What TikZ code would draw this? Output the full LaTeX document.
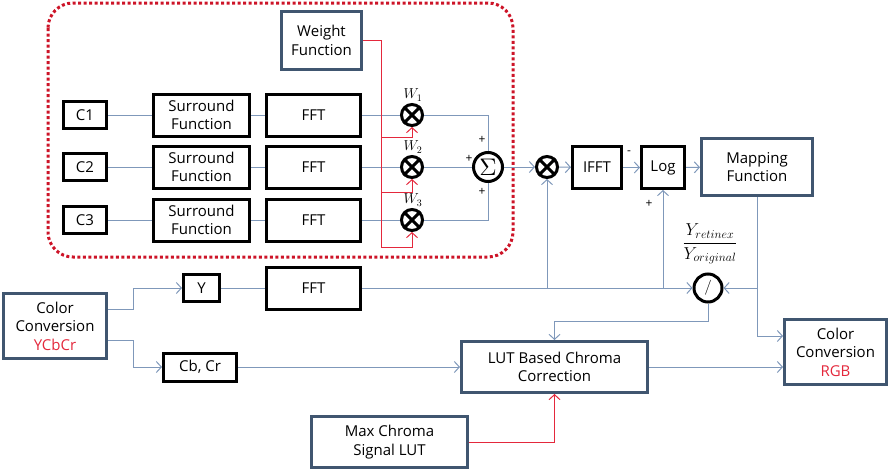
\documentclass[tikz,border=0pt]{standalone}
\usepackage{amsmath}
\usepackage{fontspec}
\setmainfont{Open Sans}
\usepackage{tikz}
\usetikzlibrary{positioning,calc,arrows,arrows.meta,backgrounds}

\definecolor{lnblue}{RGB}{127,152,186}
\definecolor{bxblue}{RGB}{64,86,112}
\definecolor{lnred}{RGB}{228,40,60}
\definecolor{dotred}{RGB}{205,20,40}

\begin{document}
\begin{tikzpicture}[x=1pt,y=-1pt]
\tikzstyle{bk}=[draw=black,line width=3pt,fill=white,align=center,inner sep=0pt,font=\fontsize{15}{18.5}\selectfont];
\tikzstyle{bb}=[bk,draw=bxblue];
\tikzstyle{op}=[draw=black,circle,line width=3pt,fill=white,inner sep=0pt,minimum size=21];
\tikzstyle{ln}=[draw=lnblue,line width=1pt];
\tikzstyle{ar}=[ln,-{Straight Barb[length=5pt,width=11pt]}];
\tikzstyle{rd}=[draw=lnred,line width=1pt];
\tikzstyle{rar}=[rd,-{Straight Barb[length=5pt,width=11pt]}];
\tikzstyle{sg}=[font=\fontsize{12}{12}\selectfont,inner sep=0pt];
\tikzstyle{wl}=[font=\fontsize{14}{14}\selectfont,inner sep=0pt];
\tikzstyle{dotbox}=[draw=dotred,line width=3pt,dash pattern=on 3pt off 2.5pt,rounded corners=25pt];
\useasboundingbox (0,0) rectangle (891,471);
\draw [dotbox] (48,3) rectangle (513,257);
% weighted sum of the three surround channels
\node [bb,minimum width=80,minimum height=58] (wf) at (321.5,40.5) {Weight\\Function};
\node [bk,minimum width=43,minimum height=27] (c1) at (85,115) {C1};
\node [bk,minimum width=43,minimum height=27] (c2) at (85,167) {C2};
\node [bk,minimum width=43,minimum height=27] (c3) at (85,220) {C3};
\node [bk,minimum width=96,minimum height=42] (s1) at (201.5,115) {Surround\\Function};
\node [bk,minimum width=96,minimum height=42] (s2) at (201.5,167) {Surround\\Function};
\node [bk,minimum width=96,minimum height=42] (s3) at (201.5,220) {Surround\\Function};
\node [bk,minimum width=94,minimum height=42] (f1) at (313.5,115) {FFT};
\node [bk,minimum width=94,minimum height=42] (f2) at (313.5,167) {FFT};
\node [bk,minimum width=94,minimum height=42] (f3) at (313.5,220) {FFT};
\node [op] (m1) at (412,115) {};
\node [op] (m2) at (412,167) {};
\node [op] (m3) at (412,220) {};
\node [wl] (w1) at (413,95) {$W_1$};
\node [wl] (w2) at (413,147) {$W_2$};
\node [wl] (w3) at (413,200) {$W_3$};
\node [op,minimum size=29] (sum) at (488,167) {\scalebox{2.4}{$\Sigma$}};
\node [sg] (p1) at (482,140) {+};
\node [sg] (p2) at (469,159) {+};
\node [sg] (p3) at (482,192) {+};
% retinex output and mapping
\node [op] (m4) at (547,167) {};
\node [bk,minimum width=49,minimum height=42] (ifft) at (597,167.5) {IFFT};
\node [bk,minimum width=43,minimum height=42] (log) at (663,167.5) {Log};
\node [bb,minimum width=111,minimum height=57] (map) at (757,167) {Mapping\\Function};
\node [sg] (mn) at (629,153) {-};
\node [sg] (p4) at (649,204) {+};
% luminance and chroma paths
\node [bb,minimum width=103,minimum height=65] (ccy) at (55,326) {Color\\Conversion\\\textcolor{lnred}{YCbCr}};
\node [bk,minimum width=36,minimum height=27] (y) at (201.5,288) {Y};
\node [bk,minimum width=94,minimum height=42] (f4) at (313.5,288) {FFT};
\node [bk,minimum width=73,minimum height=28] (cbcr) at (200,367) {Cb, Cr};
\node [op,minimum size=28] (div) at (708,288) {\scalebox{1.5}{$/$}};
\node [inner sep=0pt,font=\fontsize{17}{20}\selectfont] (frac) at (710,244) {$\dfrac{Y_{retinex}}{Y_{original}}$};
\node [bb,minimum width=186,minimum height=51] (lut) at (554.5,367) {LUT Based Chroma\\Correction};
\node [bb,minimum width=156,minimum height=51] (max) at (389.5,442) {Max Chroma\\Signal LUT};
\node [bb,minimum width=102,minimum height=65] (rgb) at (835.5,352) {Color\\Conversion\\\textcolor{lnred}{RGB}};
\draw [line width=3pt,shorten <=1.5pt,shorten >=1.5pt] (m1.45) -- (m1.225) (m1.135) -- (m1.315);
\draw [line width=3pt,shorten <=1.5pt,shorten >=1.5pt] (m2.45) -- (m2.225) (m2.135) -- (m2.315);
\draw [line width=3pt,shorten <=1.5pt,shorten >=1.5pt] (m3.45) -- (m3.225) (m3.135) -- (m3.315);
\draw [line width=3pt,shorten <=1.5pt,shorten >=1.5pt] (m4.45) -- (m4.225) (m4.135) -- (m4.315);
\draw [ln] (c1) -- (s1);
\draw [ln] (c2) -- (s2);
\draw [ln] (c3) -- (s3);
\draw [ln] (s1) -- (f1);
\draw [ln] (s2) -- (f2);
\draw [ln] (s3) -- (f3);
\draw [ln] (f1) -- (m1);
\draw [ln] (f2) -- (m2);
\draw [ln] (f3) -- (m3);
\draw [ln] (m1) -| (sum);
\draw [ln] (m2) -- (sum);
\draw [ln] (m3) -| (sum);
\coordinate (r1) at (381,137);
\coordinate (r2) at (381,192);
\coordinate (r3) at (381,247);
\draw [rar] (wf) -| (r3) -| (m3);
\draw [rar] (r1) -| (m1);
\draw [rar] (r2) -| (m2);
\draw [ar] (sum) -- (m4);
\draw [ar] (m4) -- (ifft);
\draw [ar] (ifft) -- (log);
\draw [ar] (log) -- (map);
\draw [ar] ([yshift=17pt]ccy.east) -- ++(25,0) |- (y);
\draw [ar] ([yshift=-14pt]ccy.east) -- ++(25,0) |- (cbcr);
\draw [ln] (y) -- (f4);
\draw [ar] (f4) -- (div);
\draw [ar] (m4 |- f4) -- (m4);
\draw [ar] (log |- f4) -- (log);
\draw [ar] (map) |- ([yshift=16pt]rgb.west);
\draw [ar] (map |- div) -- (div);
\draw [ar] (div.south) -- ++(0,18) -| (lut);
\draw [ar] (cbcr) -- (lut);
\draw [ar] (lut) -- (lut -| rgb.west);
\draw [rar] (max) -| (lut);
\end{tikzpicture}
\end{document}
